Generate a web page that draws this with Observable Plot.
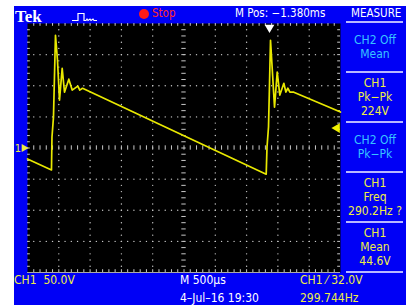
<!DOCTYPE html>
<html><head><meta charset="utf-8">
<script src="https://cdn.jsdelivr.net/npm/d3@7"></script>
<script src="https://cdn.jsdelivr.net/npm/@observablehq/plot@0.6"></script>
<style>
html,body{margin:0;padding:0;background:#fff;width:406px;height:305px;overflow:hidden}
#scope{position:absolute;left:14px;top:6px;width:392px;height:299px;background:#0000f6;font-family:"DejaVu Sans Condensed","DejaVu Sans",sans-serif;font-size:11.5px;color:#fff}
#chart{position:absolute;left:0;top:0}
.t{position:absolute;white-space:nowrap;line-height:1}
.f{font-size:12px}
.y{color:#eeee44}
.c{color:#38c4ff}
.box{position:absolute;left:332px;width:58px;display:flex;flex-direction:column;justify-content:center;align-items:center;line-height:14px;font-size:12px}
.sep{position:absolute;left:332px;width:57px;height:2px;background:#b8b8ff}
</style></head><body>
<div id="scope">
  <div id="chart"></div>
  <div class="t" style="left:1px;top:1.5px;font-family:'Liberation Serif','DejaVu Serif',serif;font-weight:bold;font-size:17px">Tek</div>
  <svg class="t" style="left:57px;top:6px" width="30" height="10"><polyline points="1,8.5 7,8.5 7,1.5 13,1.5 13,8.5 15,8.5 16,7 17,8.5 19,7 20,8.5 22,7 23,8.5 26,8.5" fill="none" stroke="#fff" stroke-width="1.2"/></svg>
  <div class="t" style="left:125px;top:3px;width:10px;height:10px;border-radius:50%;background:#ff1a1a"></div>
  <div class="t" style="left:138px;top:2.4px;color:#ff2a2a">Stop</div>
  <div class="t" style="left:221px;top:2.4px">M Pos: −1.380ms</div>
  <div class="t" style="left:337px;top:2.4px">MEASURE</div>
  <div class="sep" style="top:15px"></div>
  <div class="sep" style="top:65px"></div>
  <div class="sep" style="top:115px"></div>
  <div class="sep" style="top:165px"></div>
  <div class="sep" style="top:215px"></div>
  <div class="sep" style="top:265px"></div>
  <div id="panel"></div>
  <div class="t f y" style="left:0px;top:268.3px">CH1&nbsp;&nbsp;50.0V</div>
  <div class="t f" style="left:166px;top:268.3px">M 500µs</div>
  <div class="t f" style="left:166px;top:286.3px">4–Jul–16 19:30</div>
  <div class="t f y" style="left:286px;top:268.3px">CH1 ⁄ 32.0V</div>
  <div class="t f y" style="left:286px;top:286.3px">299.744Hz</div>
</div>
<script>
// Waveform: time (ms from left edge) and CH1 voltage (V)
const timeMs = [0, 0.383, 0.391, 0.415, 0.447, 0.479, 0.511, 0.554, 0.591, 0.660, 0.714, 0.804, 0.835, 0.879,
                3.813, 3.826, 3.850, 3.882, 3.946, 3.989, 4.031, 4.095, 4.127, 4.159, 4.191, 4.254, 5.0];
const volts  = [-17.6, -35.3, 17.6, 49.7, 181, 141, 76.9, 128, 89.7, 110.6, 93, 99.4, 93, 96,
                -42, 1.6, 33.7, 173, 65.7, 121.8, 85, 104, 89.7, 96, 89.7, 89.7, 57.7];
const triggerLevelV = 32;
const triggerTimeMs = 3.866;
// Measurement panel
const measureLabels = [["CH2 Off", "Mean"], ["CH1", "Pk−Pk", "224V"], ["CH2 Off", "Pk−Pk"], ["CH1", "Freq", "290.2Hz ?"], ["CH1", "Mean", "44.6V"]];
const measureColors = ["c", "y", "c", "y", "y"];

const wave = timeMs.map((t, i) => ({t, v: volts[i]}));
const tMin = 0, tMax = 5, vMin = -200, vMax = 200;
const minorT = d3.range(1, 50).map(i => i * 0.1);
const minorV = d3.range(-19, 20).map(i => i * 10);
const gridT = [0.5, 1, 1.5, 2, 3, 3.5, 4, 4.5];
const gridV = [-150, -100, -50, 50, 100, 150];
const dotsH = gridV.flatMap(v => minorT.map(t => ({t, v})));
const dotsV = gridT.flatMap(t => minorV.map(v => ({t, v})));

const panel = document.getElementById("panel");
measureLabels.forEach((lines, i) => {
  const b = document.createElement("div");
  b.className = "box " + measureColors[i];
  b.style.top = (16 + i * 50) + "px";
  b.style.height = "49px";
  b.innerHTML = lines.map(s => `<div>${s}</div>`).join("");
  panel.appendChild(b);
});

const gc = "#c8c8c8";
const chart = Plot.plot({
  width: 392, height: 299,
  marginLeft: 13, marginRight: 66, marginTop: 17, marginBottom: 33,
  style: {background: "transparent", overflow: "visible"},
  x: {domain: [tMin, tMax], axis: null},
  y: {domain: [vMin, vMax], axis: null},
  marks: [
    Plot.frame({fill: "black"}),
    Plot.dot(dotsH, {x: "t", y: "v", r: 0.7, fill: gc}),
    Plot.dot(dotsV, {x: "t", y: "v", r: 0.7, fill: gc}),
    Plot.ruleX(minorT, {x: d => d, y1: -3.5, y2: 3.5, stroke: gc, strokeWidth: 1}),
    Plot.ruleY(minorV, {y: d => d, x1: 2.5 - 0.035, x2: 2.5 + 0.035, stroke: gc, strokeWidth: 1}),
    Plot.ruleX(minorT, {x: d => d, y1: vMax, y2: vMax - 4.5, stroke: gc, strokeWidth: 1}),
    Plot.ruleX(minorT, {x: d => d, y1: vMin, y2: vMin + 4.5, stroke: gc, strokeWidth: 1}),
    Plot.ruleY(minorV, {y: d => d, x1: tMin, x2: tMin + 0.045, stroke: gc, strokeWidth: 1}),
    Plot.ruleY(minorV, {y: d => d, x1: tMax, x2: tMax - 0.045, stroke: gc, strokeWidth: 1}),
    Plot.ruleY([vMin], {stroke: "#aaa", strokeWidth: 1}),
    Plot.line(wave, {x: "t", y: "v", stroke: "#e8e800", strokeWidth: 1.7}),
    Plot.dot([triggerLevelV], {x: () => tMax, y: d => d, symbol: "triangle", rotate: -90, r: 3.6, fill: "#f0f000", dx: -3.5}),
    Plot.dot([triggerTimeMs], {x: d => d, y: () => vMax, symbol: "triangle", rotate: 180, r: 3.6, fill: "#fff", dy: 4}),
    Plot.text([0], {x: () => tMin, y: d => d, text: () => "1", dx: -9.5, fill: "#eeee44", fontSize: 11, fontFamily: "DejaVu Sans Condensed"}),
    Plot.dot([0], {x: () => tMin, y: d => d, symbol: "triangle", rotate: 90, r: 3, fill: "#eeee44", dx: -3.5})
  ]
});
document.getElementById("chart").appendChild(chart);
</script>
</body></html>
